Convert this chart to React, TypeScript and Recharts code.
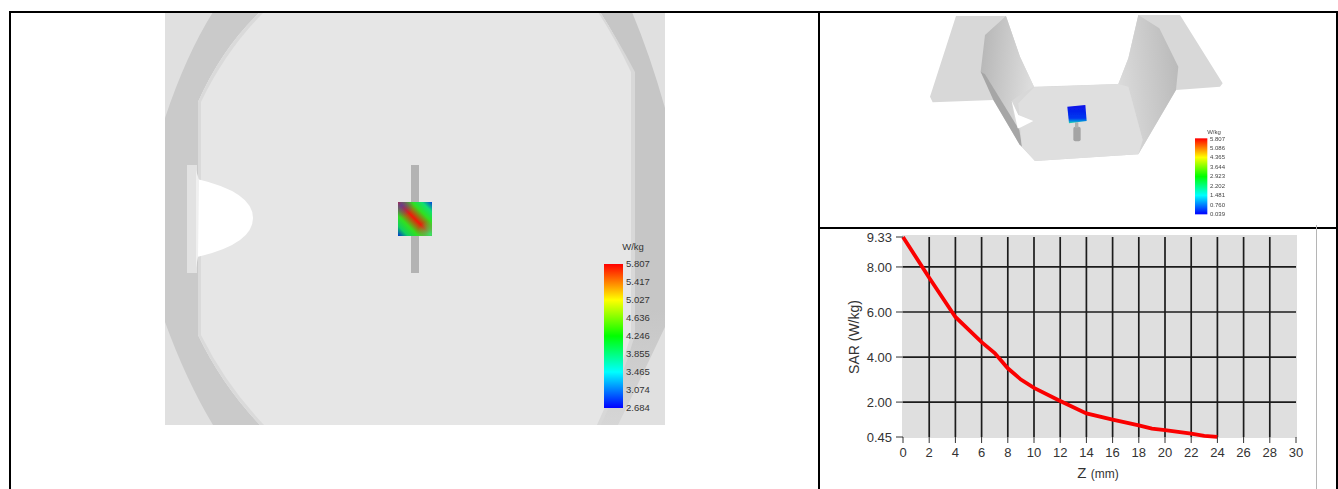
import React from "react";
import { LineChart, Line, XAxis, YAxis, CartesianGrid } from "recharts";

const zValues = [0, 2, 4, 6, 7, 8, 9, 10, 12, 14, 16, 18, 19, 20, 22, 23, 24];
const sarValues = [9.33, 7.52, 5.78, 4.66, 4.18, 3.5, 3.0, 2.63, 2.05, 1.5, 1.22, 0.97, 0.82, 0.76, 0.6, 0.5, 0.46];
const xTicks = [0, 2, 4, 6, 8, 10, 12, 14, 16, 18, 20, 22, 24, 26, 28, 30];
const yTicks = [0.45, 2, 4, 6, 8, 9.33];
const xGrid = [2, 4, 6, 8, 10, 12, 14, 16, 18, 20, 22, 24, 26, 28];
const yGrid = [2, 4, 6, 8];
const mainScale = ["5.807", "5.417", "5.027", "4.636", "4.246", "3.855", "3.465", "3.074", "2.684"];
const smallScale = ["5.807", "5.086", "4.365", "3.644", "2.923", "2.202", "1.481", "0.760", "0.039"];

const rows = zValues.map((z, i) => ({ z, sar: sarValues[i] }));
const FONT = "'Liberation Sans', Arial, sans-serif";

function Rainbow({ id }: { id: string }) {
  return (
    <linearGradient id={id} x1="0" y1="0" x2="0" y2="1">
      <stop offset="0" stopColor="#ff0000" />
      <stop offset="0.25" stopColor="#ffff00" />
      <stop offset="0.5" stopColor="#00ff00" />
      <stop offset="0.75" stopColor="#00ffff" />
      <stop offset="1" stopColor="#0000ff" />
    </linearGradient>
  );
}

function Backdrop() {
  return (
    <svg width={1338} height={489} style={{ position: "absolute", left: 0, top: 0 }}>
      <defs>
        <Rainbow id="rb1" />
        <Rainbow id="rb2" />
        <linearGradient id="patch" x1="0" y1="1" x2="1" y2="0">
          <stop offset="0" stopColor="#0030d0" />
          <stop offset="0.15" stopColor="#10d060" />
          <stop offset="0.3" stopColor="#30e020" />
          <stop offset="0.5" stopColor="#f01808" />
          <stop offset="0.7" stopColor="#30e020" />
          <stop offset="0.85" stopColor="#10e070" />
          <stop offset="1" stopColor="#0040e0" />
        </linearGradient>
        <radialGradient id="tlCorner" cx="0.1" cy="0.1" r="0.35">
          <stop offset="0" stopColor="#2050d0" stopOpacity="0.65" />
          <stop offset="1" stopColor="#2050d0" stopOpacity="0" />
        </radialGradient>
        <radialGradient id="brCorner" cx="0.95" cy="0.95" r="0.4">
          <stop offset="0" stopColor="#20ff70" stopOpacity="0.9" />
          <stop offset="1" stopColor="#20ff70" stopOpacity="0" />
        </radialGradient>
        <linearGradient id="blueSq" x1="0" y1="0" x2="0" y2="1">
          <stop offset="0" stopColor="#0a10e8" />
          <stop offset="0.72" stopColor="#0038f0" />
          <stop offset="0.88" stopColor="#0090e0" />
          <stop offset="1" stopColor="#30e0a0" />
        </linearGradient>
        <linearGradient id="leftFold" x1="0" y1="0" x2="1" y2="0.25">
          <stop offset="0" stopColor="#b4b4b4" />
          <stop offset="1" stopColor="#dcdcdc" />
        </linearGradient>
        <linearGradient id="rightFold" x1="1" y1="0.1" x2="0" y2="0.35">
          <stop offset="0" stopColor="#b8b8b8" />
          <stop offset="1" stopColor="#dadada" />
        </linearGradient>
        <linearGradient id="rightBand" x1="0" y1="0" x2="0" y2="1">
          <stop offset="0" stopColor="#c6c6c6" />
          <stop offset="0.72" stopColor="#c6c6c6" />
          <stop offset="1" stopColor="#d6d6d6" />
        </linearGradient>
        <filter id="soft"><feGaussianBlur stdDeviation="1.5" /></filter>
        <filter id="softer"><feGaussianBlur stdDeviation="0.3" /></filter>
        <clipPath id="leftImg"><rect x={165} y={12} width={500} height={413} /></clipPath>
      </defs>

      {/* left 3D view */}
      <g clipPath="url(#leftImg)">
        <rect x={165} y={12} width={500} height={413} fill="#e0e0e0" />
        <path d="M165,118 Q186,55 213,12 L260,12 Q222,48 198,102 L198,335 Q222,385 260,425 L213,425 Q186,380 165,322 Z" fill="#cacaca" />
        <path d="M632,12 Q650,55 665,108 L665,327 Q640,380 618,425 L599,425 Q620,380 633,335 L633,72 Q618,40 600,12 Z" fill="url(#rightBand)" />
        <path d="M198,102 Q222,48 260,12 L600,12 Q618,40 633,72 L633,335 Q620,380 599,425 L260,425 Q222,385 198,335 Z" fill="#e6e6e6" />
        <path d="M198,102 Q222,48 260,12 L264,12 Q226,50 201,102 L201,335 Q226,385 264,425 L260,425 Q222,385 198,335 Z" fill="#dadada" />
        <path d="M631,72 Q616,40 598,12 L600,12 Q618,40 635,72 L635,335 Q622,380 601,425 L597,425 Q618,380 631,335 Z" fill="#d8d8d8" />
        <rect x={187} y={165} width={10} height={108} fill="#e2e2e2" />
        <path d="M197,179 Q253,192 253,218 Q253,244 197,257 Z" fill="#ffffff" />
        <path d="M196,170 L199,180 L198,257 L196,268 Z" fill="#f0f0f0" />
        <rect x={411} y={165} width={8} height={108} fill="#b3b3b3" />
        <rect x={398} y={202} width={34} height={34} fill="url(#patch)" />
        <rect x={398} y={202} width={34} height={34} fill="url(#tlCorner)" />
        <rect x={398} y={202} width={34} height={34} fill="url(#brCorner)" />
      </g>

      <rect x={604} y={264} width={19} height={144} fill="url(#rb1)" />
      <text x={633} y={250} fontFamily={FONT} fontSize={9.5} fill="#333" textAnchor="middle">W/kg</text>
      {mainScale.map((t, i) => (
        <text key={t} x={626} y={266.6 + i * 18.1} fontFamily={FONT} fontSize={9.5} fill="#333">{t}</text>
      ))}

      {/* upper right 3D view, drawn in crop units */}
      <g transform="translate(920,15) scale(0.33333)" filter="url(#soft)">
        <path d="M108,3 L258,3 L300,125 L342,215 L595,207 L625,130 L655,0 L780,0 L908,205 L900,215 L768,225 L655,418 L345,438 L300,390 L220,255 L38,262 L30,245 Z" fill="#d8d8d8" />
        <path d="M195,60 L182,170 L290,365 L275,258 L300,240 L342,215 L300,125 L258,3 Z" fill="url(#leftFold)" />
        <path d="M182,170 L195,178 L298,345 L306,395 L298,388 L220,255 Z" fill="#a6a6a6" />
        <path d="M655,0 L718,40 L775,155 L768,225 L655,418 L668,375 L625,215 L595,207 L625,130 Z" fill="url(#rightFold)" />
        <path d="M342,217 L595,207 L625,215 L668,375 L655,418 L345,438 L306,395 L295,265 Z" fill="#dfdfdf" />
        <path d="M275,258 L295,300 L340,318 L300,338 L293,340 Z" fill="#ffffff" />
        <rect x={460} y={335} width={22} height={44} rx={6} fill="#a4a4a4" />
        <rect x={465} y={322} width={10} height={16} fill="#b0b0b0" />
        <path d="M442,275 L496,270 L500,318 L447,325 Z" fill="url(#blueSq)" />
        <rect x={825} y={370} width={37} height={228} fill="url(#rb2)" />
      </g>
      <g filter="url(#softer)">
        <text x={1214} y={134} fontFamily={FONT} fontSize={6} fill="#444" textAnchor="middle">W/kg</text>
        {smallScale.map((t, i) => (
          <text key={t} x={1210} y={140.5 + i * 9.45} fontFamily={FONT} fontSize={6} fill="#444">{t}</text>
        ))}
      </g>

      {/* frame */}
      <rect x={9} y={11} width={1329} height={2} fill="#000" />
      <rect x={9} y={11} width={2} height={478} fill="#000" />
      <rect x={818} y={11} width={2} height={478} fill="#000" />
      <rect x={819} y={227} width={519} height={2} fill="#000" />
      <rect x={1336} y={11} width={2} height={478} fill="#000" />
      <rect x={1316} y={225} width={1} height={264} fill="#b5b5b5" />
      <rect x={902} y={235} width={395} height={203} fill="#dfdfdf" />
    </svg>
  );
}

export default function App() {
  return (
    <div style={{ position: "absolute", left: 0, top: 0, width: 1338, height: 489, overflow: "hidden", background: "#fff" }}>
      <Backdrop />
      <div style={{ position: "absolute", left: 820, top: 228 }}>
        <LineChart width={518} height={261} data={rows} margin={{ top: 9, left: 43, right: 42, bottom: 24 }}>
          <CartesianGrid
            stroke="#1c1c1c"
            strokeWidth={1.7}
            horizontalValues={yGrid}
            verticalValues={xGrid}
          />
          <XAxis
            dataKey="z"
            type="number"
            domain={[0, 30]}
            ticks={xTicks}
            interval={0}
            height={28}
            axisLine={false}
            tickLine={{ stroke: "#333", strokeWidth: 1 }}
            tickSize={6}
            tickMargin={5}
            tick={{ fontFamily: FONT, fontSize: 13, fill: "#333" }}
          />
          <YAxis
            type="number"
            domain={[0.45, 9.33]}
            ticks={yTicks}
            interval={0}
            width={40}
            axisLine={false}
            tickLine={{ stroke: "#333", strokeWidth: 1 }}
            tickSize={7}
            tickMargin={4}
            tickFormatter={(v: number) => v.toFixed(2)}
            tick={{ fontFamily: FONT, fontSize: 13, fill: "#333" }}
          />
          <Line
            dataKey="sar"
            type="linear"
            stroke="#fa0000"
            strokeWidth={3.8}
            dot={false}
            isAnimationActive={false}
          />
        </LineChart>
        <svg width={518} height={261} style={{ position: "absolute", left: 0, top: 0, pointerEvents: "none" }}>
          <text x={278} y={250} fontFamily={FONT} fill="#333" textAnchor="middle">
            <tspan fontSize={15}>Z </tspan>
            <tspan fontSize={12}>(mm)</tspan>
          </text>
          <text
            transform="translate(38.5,109) rotate(-90)"
            fontFamily={FONT}
            fontSize={14}
            fill="#333"
            textAnchor="middle"
          >
            SAR (W/kg)
          </text>
        </svg>
      </div>
    </div>
  );
}
